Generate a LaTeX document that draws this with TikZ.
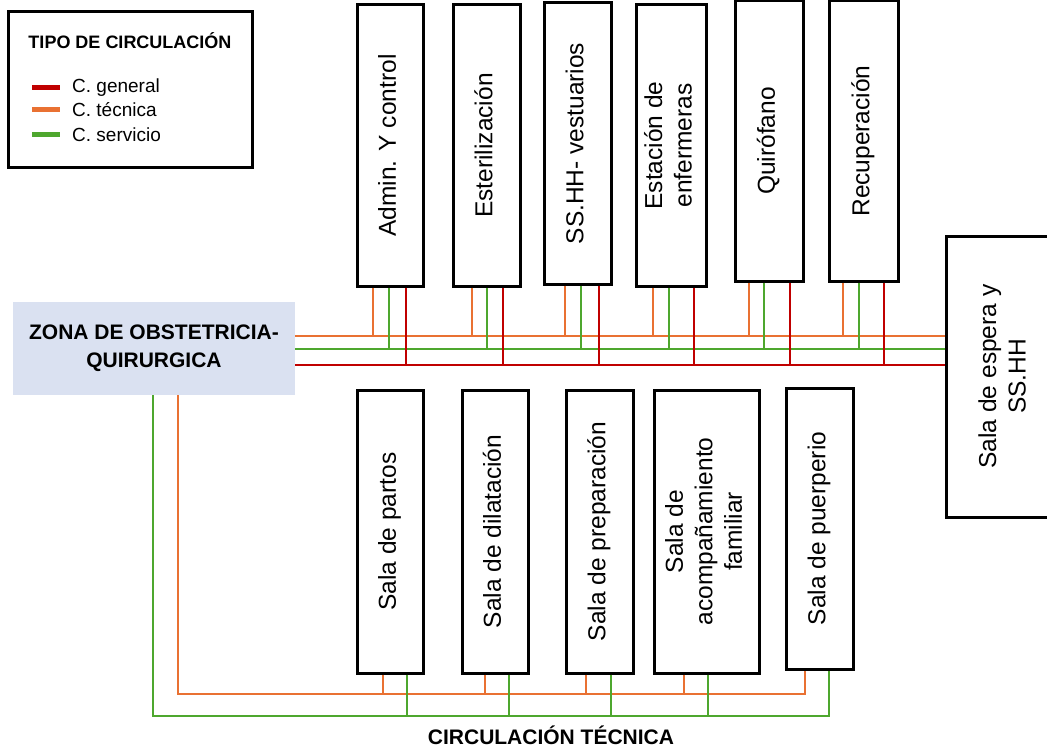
\documentclass[tikz,border=0pt]{standalone}
\usepackage{fontspec}
\setmainfont{Liberation Sans}
\definecolor{cgen}{HTML}{C00000}
\definecolor{ctec}{HTML}{E97132}
\definecolor{cser}{HTML}{4EA72E}
\definecolor{zonefill}{HTML}{DAE1F1}
% vertical (bottom-to-top) label, possibly on several lines
\newcommand\vlabel[1]{\rotatebox{90}{\begin{tabular}{@{}c@{}}#1\end{tabular}}}
\begin{document}
\begin{tikzpicture}[x=1pt,y=-1pt,
  room/.style={draw=black, line width=3pt, fill=white, inner sep=0pt,
               font=\fontsize{24.5}{29.5}\selectfont},
  gen/.style={cgen, line width=2.8pt},
  tec/.style={ctec, line width=2.8pt},
  ser/.style={cser, line width=2.8pt},
  title/.style={font=\bfseries\fontsize{21}{28}\selectfont, align=center},
]
\useasboundingbox (0,0) rectangle (1047,749);

% legend
\node[draw=black, line width=3pt, minimum width=244, minimum height=156, inner sep=0pt] (legend) at (130,90) {};
\node[font=\bfseries\fontsize{18}{20}\selectfont] (legtitle) at (130,41) {TIPO DE CIRCULACIÓN};
\coordinate (lg1) at (32,88);  \coordinate (lg2) at (32,110); \coordinate (lg3) at (32,135);
\draw[cgen, line width=5pt] (lg1) -- ++(28,0);
\draw[ctec, line width=5pt] (lg2) -- ++(28,0);
\draw[cser, line width=5pt] (lg3) -- ++(28,0);
\node[anchor=west, font=\fontsize{19}{21}\selectfont, inner sep=0pt] (l1) at (72,88) {C. general};
\node[anchor=west, font=\fontsize{19}{21}\selectfont, inner sep=0pt] (l2) at (72,110) {C. técnica};
\node[anchor=west, font=\fontsize{19}{21}\selectfont, inner sep=0pt] (l3) at (72,135) {C. servicio};

% main zone
\node[fill=zonefill, minimum width=282, minimum height=93, inner sep=0pt, title] (zone) at (154,348.5)
  {ZONA DE OBSTETRICIA-\\QUIRURGICA};

% upper rooms
\node[room, minimum width=66, minimum height=281] (admin) at (390,145.5) {\vlabel{Admin. Y control}};
\node[room, minimum width=67, minimum height=281] (ester) at (486.5,145.5) {\vlabel{Esterilización}};
\node[room, minimum width=67, minimum height=281] (sshh) at (577.5,143.5) {\vlabel{SS.HH- vestuarios}};
\node[room, minimum width=70, minimum height=281] (estac) at (671,145.5) {\vlabel{Estación de\\enfermeras}};
\node[room, minimum width=68, minimum height=280] (quiro) at (769,141) {\vlabel{Quirófano}};
\node[room, minimum width=69, minimum height=280] (recup) at (863.5,141) {\vlabel{Recuperación}};
\node[room, minimum width=118, minimum height=281] (espera) at (1005,376.5) {\vlabel{Sala de espera y\\SS.HH}};

% lower rooms
\node[room, minimum width=66, minimum height=283] (partos) at (390,531.5) {\vlabel{Sala de partos}};
\node[room, minimum width=66, minimum height=283] (dilat) at (495,531.5) {\vlabel{Sala de dilatación}};
\node[room, minimum width=67, minimum height=283] (prep) at (599.5,531.5) {\vlabel{Sala de preparación}};
\node[room, minimum width=105, minimum height=283] (acomp) at (706.5,531.5) {\vlabel{Sala de\\acompañamiento\\familiar}};
\node[room, minimum width=67, minimum height=281] (puerp) at (819.5,528.5) {\vlabel{Sala de puerperio}};

% main corridors between the zone and the waiting room
\draw[tec] (zone.east |- 0,336) coordinate (t0) -- (espera.west |- 0,336) coordinate (t1);
\draw[ser] (zone.east |- 0,349) coordinate (s0) -- (espera.west |- 0,349) coordinate (s1);
\draw[gen] (zone.east |- 0,365) coordinate (g0) -- (espera.west |- 0,365) coordinate (g1);

% branches of the upper rooms
\foreach \r/\xo/\xs/\xg in {admin/373/389/406, ester/472/487/503, sshh/565/581/599,
                            estac/653/669/694, quiro/749/764/790, recup/843/859/884}{
  \draw[tec] (\r.south -| \xo,0) -- (t0 -| \xo,0);
  \draw[ser] (\r.south -| \xs,0) -- (s0 -| \xs,0);
  \draw[gen] (\r.south -| \xg,0) -- (g0 -| \xg,0);
}

% technical circulation below
\coordinate (bt) at (805,694);
\coordinate (bs) at (829,716);
\draw[tec] (zone.south -| 178,0) |- (bt) -- (puerp.south -| bt);
\draw[ser] (zone.south -| 153,0) |- (bs) -- (puerp.south -| bs);
\foreach \r/\xo/\xs in {partos/383/407, dilat/485/509, prep/586/611, acomp/684/708}{
  \draw[tec] (\r.south -| \xo,0) -- (bt -| \xo,0);
  \draw[ser] (\r.south -| \xs,0) -- (bs -| \xs,0);
}

\node[font=\bfseries\fontsize{21}{24}\selectfont, inner sep=0pt] (ctlabel) at (551,735) {CIRCULACIÓN TÉCNICA};
\end{tikzpicture}
\end{document}
